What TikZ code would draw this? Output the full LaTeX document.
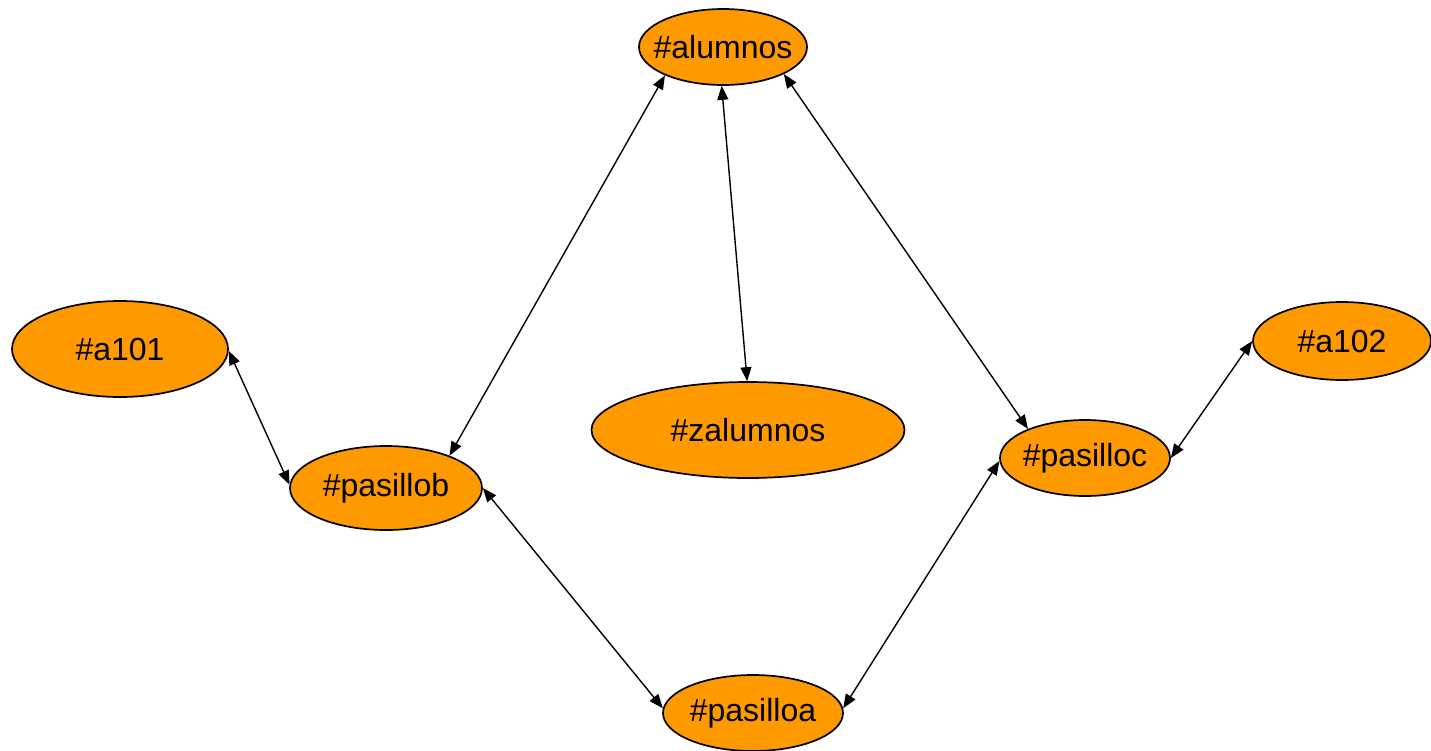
\documentclass[tikz,border=0pt]{standalone}
\usepackage{fontspec}
\setmainfont{Liberation Sans}
\usetikzlibrary{shapes.geometric,arrows.meta}
\definecolor{nodeorange}{HTML}{FF9900}
\tikzset{
  place/.style={ellipse, draw=black, line width=1.7pt, fill=nodeorange, inner xsep=-40pt, inner ysep=-10pt,
    font=\fontsize{32}{38}\selectfont},
  link/.style={line width=1.4pt, {Triangle[length=14pt,width=11pt]}-{Triangle[length=14pt,width=11pt]}}
}
\begin{document}
\begin{tikzpicture}[x=1pt,y=-1pt]
\useasboundingbox (0,0) rectangle (1431,750);
\node[place, minimum width=168pt, minimum height=76pt] (alumnos) at (723,47) {\#alumnos};
\node[place, minimum width=216pt, minimum height=96pt] (a101) at (120,349) {\#a101};
\node[place, minimum width=313pt, minimum height=96pt] (zalumnos) at (748,430) {\#zalumnos};
\node[place, minimum width=178pt, minimum height=78pt] (a102) at (1342,341) {\#a102};
\node[place, minimum width=192pt, minimum height=84pt] (pasillob) at (386,488) {\#pasillob};
\node[place, minimum width=170pt, minimum height=76pt] (pasilloc) at (1085,458) {\#pasilloc};
\node[place, minimum width=180pt, minimum height=76pt] (pasilloa) at (753,713) {\#pasilloa};

\draw[link] (alumnos.206) -- (pasillob.27);
\draw[link] (alumnos.268) -- (zalumnos.91);
\draw[link] (alumnos.336) -- (pasilloc.153);
\draw[link] (a101.359) -- (pasillob.178);
\draw[link] (pasillob.0) -- (pasilloa.177);
\draw[link] (pasilloa.3) -- (pasilloc.182);
\draw[link] (pasilloc.0) -- (a102.180);
\end{tikzpicture}
\end{document}
